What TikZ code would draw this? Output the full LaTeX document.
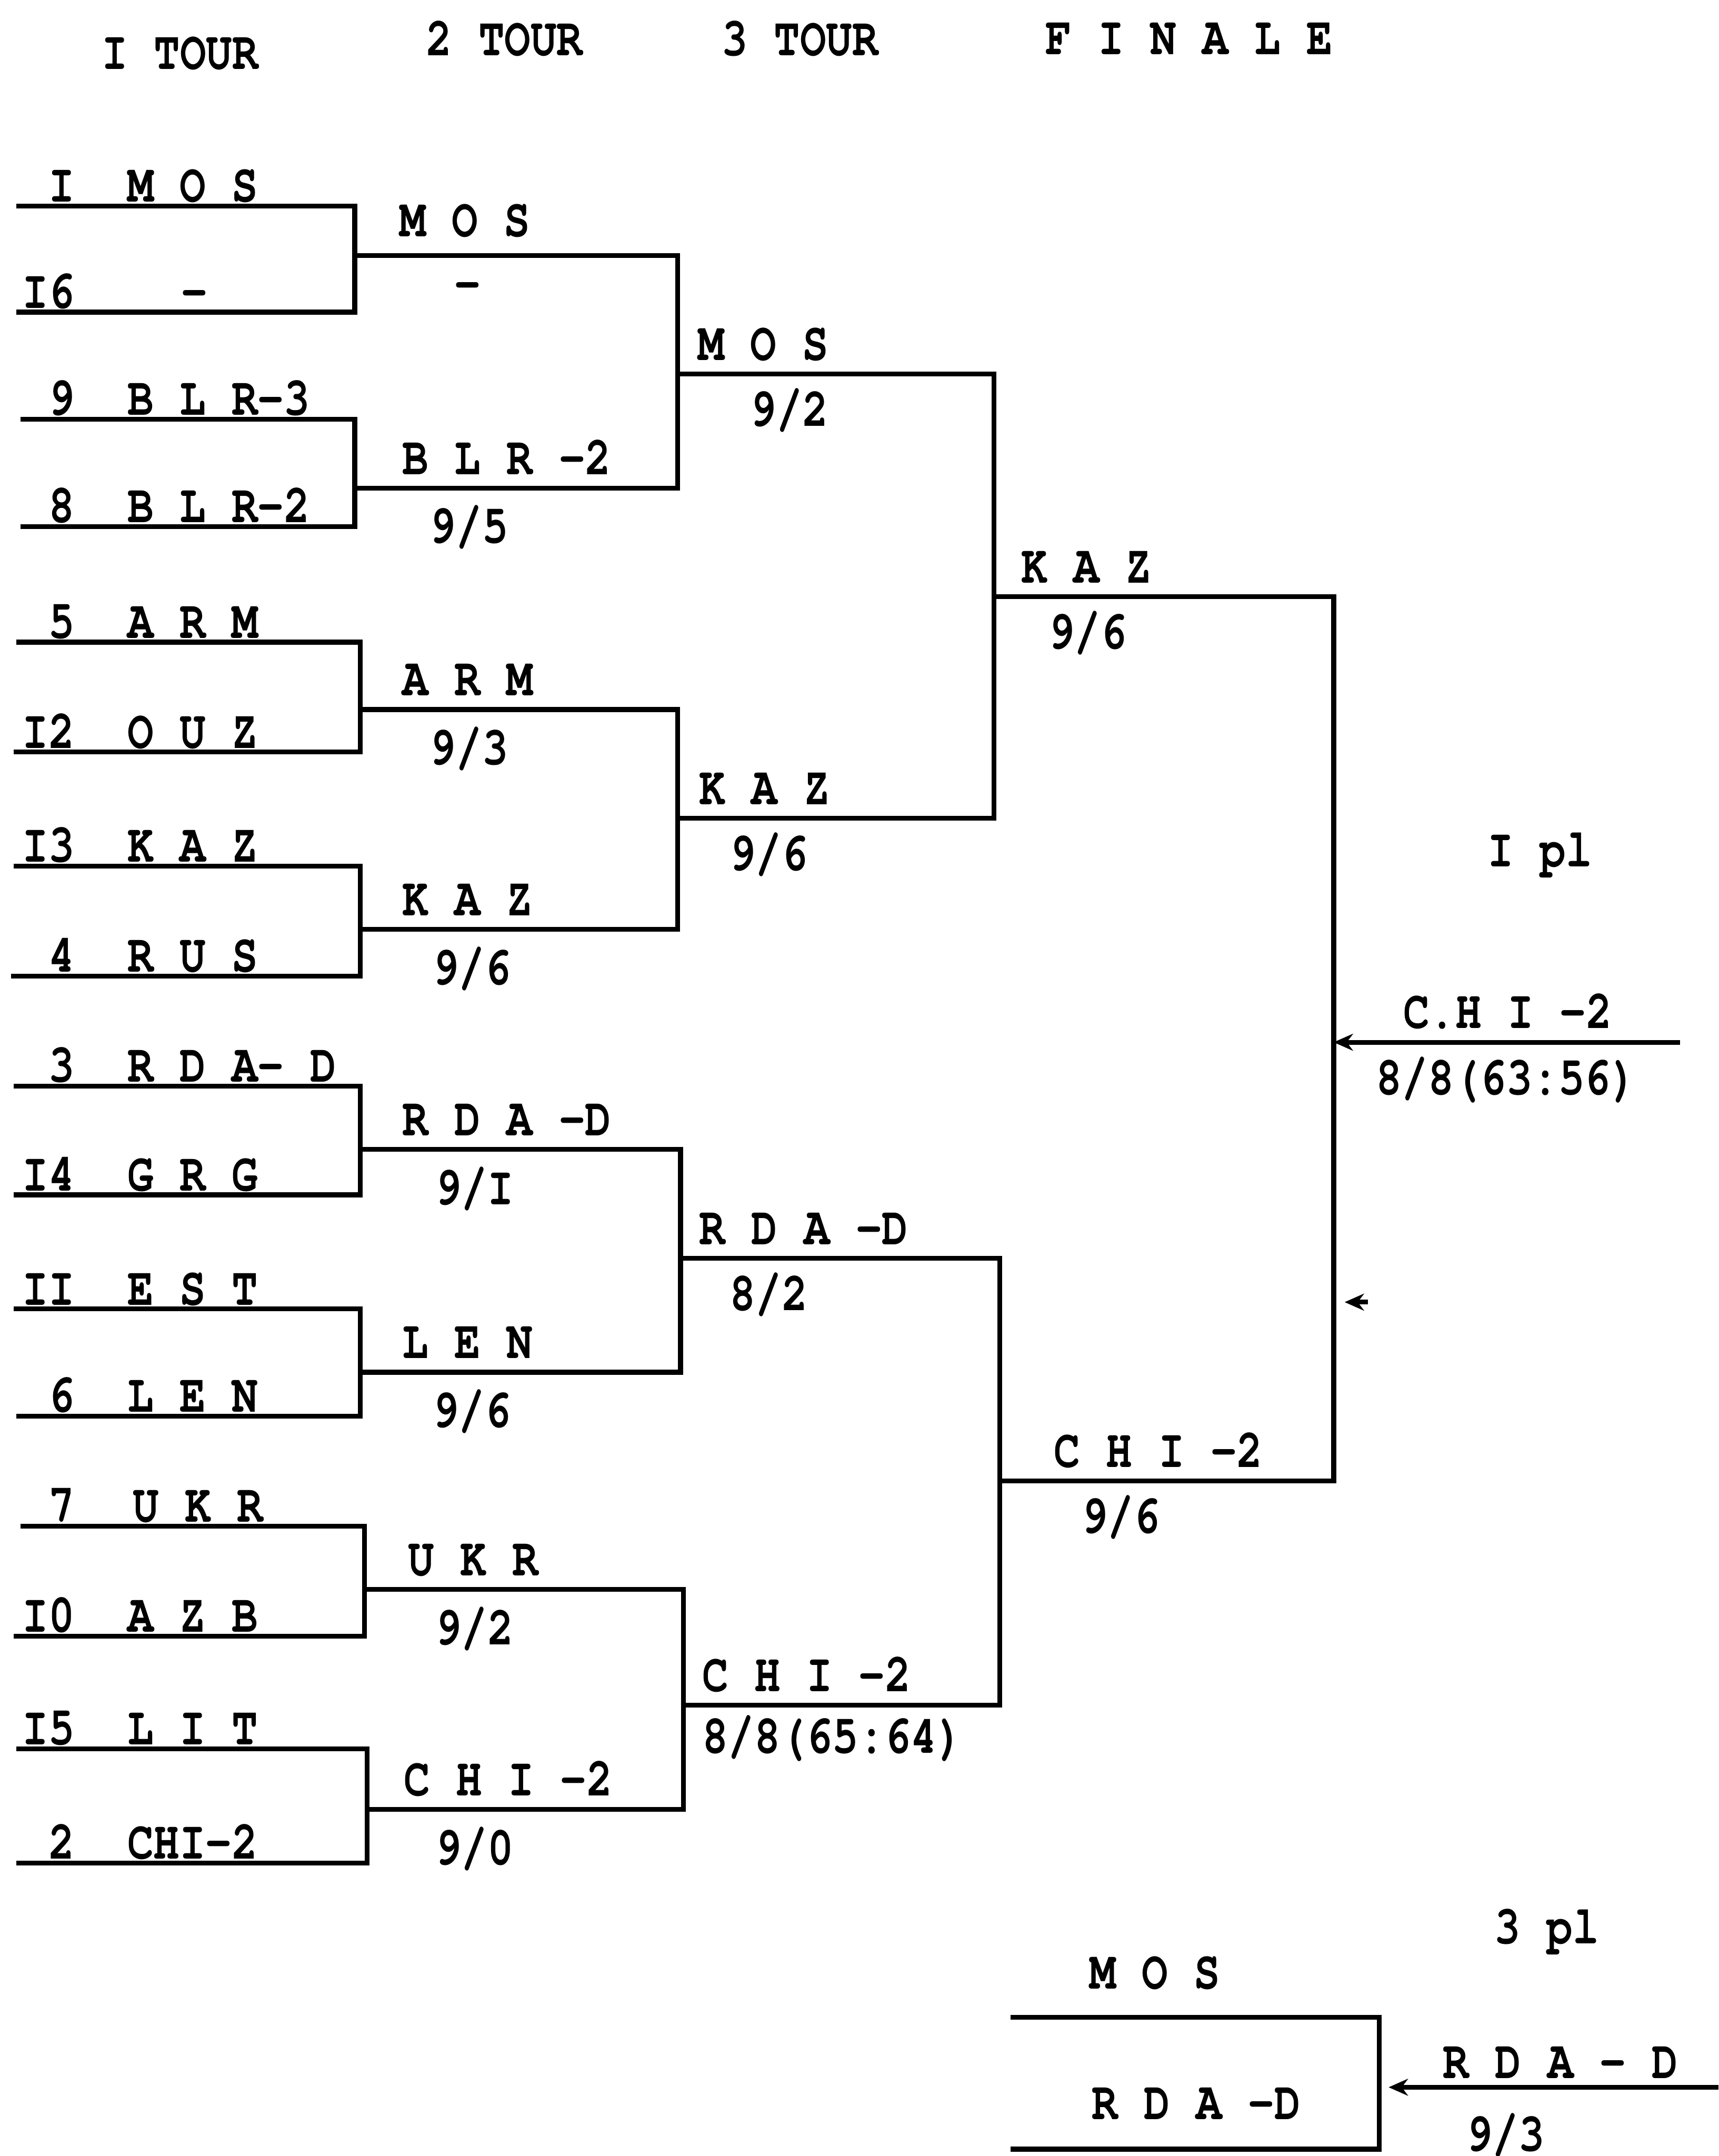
\documentclass[tikz,border=0pt]{standalone}
\usepackage{fontspec}
\newfontfamily\typewface{TeX Gyre Cursor}[FakeStretch=0.8]
\newcommand{\twfont}{\typewface\bfseries\fontsize{11.25}{13}\selectfont}
\usetikzlibrary{arrows.meta}

\begin{document}
\begin{tikzpicture}[
    bracket/.style={line width=1pt},
    winline/.style={line width=1pt, {Stealth[length=4pt, width=3.5pt]}-},
    lab/.style={anchor=base west, inner sep=0pt, font=\twfont},
    num/.style={anchor=base east, inner sep=0pt, font=\twfont},
    head/.style={inner sep=0pt, font=\twfont},
]
\fill[white] (0,0) rectangle (12.50,-15.68);
\useasboundingbox (0,0) rectangle (12.50,-15.68);

% round headers
\node[head] (h1) at (1.31,-0.39) {I TOUR};
\node[head] (h2) at (3.67,-0.28) {2 TOUR};
\node[head] (h3) at (5.82,-0.28) {3 TOUR};
\node[head] (h4) at (8.65,-0.28) {F I N A L E};

% 1 tour - 16 lines
\coordinate (a1) at (0.12,-1.50);  \coordinate (a1x) at (2.58,-1.50);
\coordinate (a2) at (0.12,-2.27);  \coordinate (a2x) at (2.58,-2.27);
\coordinate (a3) at (0.15,-3.05);  \coordinate (a3x) at (2.58,-3.05);
\coordinate (a4) at (0.15,-3.83);  \coordinate (a4x) at (2.58,-3.83);
\coordinate (a5) at (0.12,-4.67);  \coordinate (a5x) at (2.62,-4.67);
\coordinate (a6) at (0.10,-5.47);  \coordinate (a6x) at (2.62,-5.47);
\coordinate (a7) at (0.10,-6.30);  \coordinate (a7x) at (2.62,-6.30);
\coordinate (a8) at (0.08,-7.10);  \coordinate (a8x) at (2.62,-7.10);
\coordinate (a9) at (0.10,-7.90);  \coordinate (a9x) at (2.62,-7.90);
\coordinate (a10) at (0.10,-8.69); \coordinate (a10x) at (2.62,-8.69);
\coordinate (a11) at (0.10,-9.52); \coordinate (a11x) at (2.62,-9.52);
\coordinate (a12) at (0.12,-10.30); \coordinate (a12x) at (2.62,-10.30);
\coordinate (a13) at (0.15,-11.10); \coordinate (a13x) at (2.65,-11.10);
\coordinate (a14) at (0.10,-11.90); \coordinate (a14x) at (2.65,-11.90);
\coordinate (a15) at (0.12,-12.72); \coordinate (a15x) at (2.67,-12.72);
\coordinate (a16) at (0.12,-13.55); \coordinate (a16x) at (2.67,-13.55);

\node[num] (n1) at (0.55,-1.47) {I};    \node[lab] (m1) at (0.92,-1.47) {M O S};
\node[num] (n2) at (0.55,-2.24) {I6};   \node[lab] (m2) at (1.31,-2.24) {-};
\node[num] (n3) at (0.55,-3.02) {9};    \node[lab] (m3) at (0.92,-3.02) {B L R-3};
\node[num] (n4) at (0.55,-3.80) {8};    \node[lab] (m4) at (0.92,-3.80) {B L R-2};
\node[num] (n5) at (0.55,-4.64) {5};    \node[lab] (m5) at (0.92,-4.64) {A R M};
\node[num] (n6) at (0.55,-5.44) {I2};   \node[lab] (m6) at (0.92,-5.44) {O U Z};
\node[num] (n7) at (0.55,-6.27) {I3};   \node[lab] (m7) at (0.92,-6.27) {K A Z};
\node[num] (n8) at (0.55,-7.07) {4};    \node[lab] (m8) at (0.92,-7.07) {R U S};
\node[num] (n9) at (0.55,-7.87) {3};    \node[lab] (m9) at (0.92,-7.87) {R D A- D};
\node[num] (n10) at (0.55,-8.66) {I4};  \node[lab] (m10) at (0.92,-8.66) {G R G};
\node[num] (n11) at (0.55,-9.49) {II};  \node[lab] (m11) at (0.92,-9.49) {E S T};
\node[num] (n12) at (0.55,-10.27) {6};  \node[lab] (m12) at (0.92,-10.27) {L E N};
\node[num] (n13) at (0.55,-11.07) {7};  \node[lab] (m13) at (0.96,-11.07) {U K R};
\node[num] (n14) at (0.55,-11.87) {I0}; \node[lab] (m14) at (0.92,-11.87) {A Z B};
\node[num] (n15) at (0.55,-12.69) {I5}; \node[lab] (m15) at (0.92,-12.69) {L I T};
\node[num] (n16) at (0.55,-13.52) {2};  \node[lab] (m16) at (0.92,-13.52) {CHI-2};

\draw[bracket] (a1) -- (a1x) -- (a2x) -- (a2);
\draw[bracket] (a3) -- (a3x) -- (a4x) -- (a4);
\draw[bracket] (a5) -- (a5x) -- (a6x) -- (a6);
\draw[bracket] (a7) -- (a7x) -- (a8x) -- (a8);
\draw[bracket] (a9) -- (a9x) -- (a10x) -- (a10);
\draw[bracket] (a11) -- (a11x) -- (a12x) -- (a12);
\draw[bracket] (a13) -- (a13x) -- (a14x) -- (a14);
\draw[bracket] (a15) -- (a15x) -- (a16x) -- (a16);

% 2 tour - 8 lines
\coordinate (b1) at (2.58,-1.86);  \coordinate (b1x) at (4.93,-1.86);
\coordinate (b2) at (2.58,-3.55);  \coordinate (b2x) at (4.93,-3.55);
\coordinate (b3) at (2.62,-5.16);  \coordinate (b3x) at (4.93,-5.16);
\coordinate (b4) at (2.62,-6.76);  \coordinate (b4x) at (4.93,-6.76);
\coordinate (b5) at (2.62,-8.36);  \coordinate (b5x) at (4.95,-8.36);
\coordinate (b6) at (2.62,-9.98);  \coordinate (b6x) at (4.95,-9.98);
\coordinate (b7) at (2.65,-11.56); \coordinate (b7x) at (4.97,-11.56);
\coordinate (b8) at (2.67,-13.16); \coordinate (b8x) at (4.97,-13.16);

\node[lab] (p1) at (2.90,-1.72) {M O S};     \node[head] (s1) at (3.40,-2.12) {-};
\node[lab] (p2) at (2.92,-3.45) {B L R -2};  \node[lab] (s2) at (3.12,-3.95) {9/5};
\node[lab] (p3) at (2.92,-5.06) {A R M};     \node[lab] (s3) at (3.12,-5.56) {9/3};
\node[lab] (p4) at (2.92,-6.66) {K A Z};     \node[lab] (s4) at (3.14,-7.16) {9/6};
\node[lab] (p5) at (2.92,-8.26) {R D A -D};  \node[lab] (s5) at (3.16,-8.76) {9/I};
\node[lab] (p6) at (2.92,-9.88) {L E N};     \node[lab] (s6) at (3.14,-10.38) {9/6};
\node[lab] (p7) at (2.96,-11.46) {U K R};    \node[lab] (s7) at (3.16,-11.96) {9/2};
\node[lab] (p8) at (2.93,-13.06) {C H I -2}; \node[lab] (s8) at (3.16,-13.56) {9/0};

\draw[bracket] (b1) -- (b1x) -- (b2x) -- (b2);
\draw[bracket] (b3) -- (b3x) -- (b4x) -- (b4);
\draw[bracket] (b5) -- (b5x) -- (b6x) -- (b6);
\draw[bracket] (b7) -- (b7x) -- (b8x) -- (b8);

% 3 tour - 4 lines
\coordinate (c1) at (4.93,-2.72);  \coordinate (c1x) at (7.23,-2.72);
\coordinate (c2) at (4.93,-5.95);  \coordinate (c2x) at (7.23,-5.95);
\coordinate (c3) at (4.95,-9.15);  \coordinate (c3x) at (7.27,-9.15);
\coordinate (c4) at (4.97,-12.40); \coordinate (c4x) at (7.27,-12.40);

\node[lab] (q1) at (5.07,-2.62) {M O S};     \node[lab] (r1) at (5.45,-3.10) {9/2};
\node[lab] (q2) at (5.08,-5.85) {K A Z};     \node[lab] (r2) at (5.30,-6.33) {9/6};
\node[lab] (q3) at (5.08,-9.05) {R D A -D};  \node[lab] (r3) at (5.30,-9.53) {8/2};
\node[lab] (q4) at (5.10,-12.30) {C H I -2}; \node[lab] (r4) at (5.10,-12.75) {8/8(65:64)};

\draw[bracket] (c1) -- (c1x) -- (c2x) -- (c2);
\draw[bracket] (c3) -- (c3x) -- (c4x) -- (c4);

% semi-finals
\coordinate (d1) at (7.23,-4.34);  \coordinate (d1x) at (9.70,-4.34);
\coordinate (d2) at (7.27,-10.77); \coordinate (d2x) at (9.70,-10.77);

\node[lab] (u1) at (7.42,-4.24) {K A Z};     \node[lab] (v1) at (7.62,-4.72) {9/6};
\node[lab] (u2) at (7.66,-10.67) {C H I -2}; \node[lab] (v2) at (7.86,-11.15) {9/6};

\draw[bracket] (d1) -- (d1x) -- (d2x) -- (d2);

% final
\coordinate (f) at (9.70,-7.58); \coordinate (fx) at (12.22,-7.58);
\coordinate (k) at (9.78,-9.47);  \coordinate (kx) at (9.95,-9.47);
\node[head] (pl1) at (11.20,-6.22) {I pl};
\node[lab] (w1) at (10.20,-7.48) {C.H I -2};
\node[lab] (w2) at (10.00,-7.96) {8/8(63:56)};
\draw[winline] (f) -- (fx);
\draw[winline] (k) -- (kx);

% 3rd place
\coordinate (g1) at (7.35,-14.67);  \coordinate (g1x) at (10.03,-14.67);
\coordinate (g2) at (7.35,-15.63);  \coordinate (g2x) at (10.03,-15.63);
\coordinate (t) at (10.10,-15.18);  \coordinate (tx) at (12.50,-15.18);
\node[head] (pl3) at (11.25,-14.05) {3 pl};
\node[head] (x1) at (8.40,-14.35) {M O S};
\node[head] (x2) at (8.70,-15.30) {R D A -D};
\node[head] (y1) at (11.35,-15.00) {R D A - D};
\node[head] (y2) at (10.95,-15.53) {9/3};
\draw[bracket] (g1) -- (g1x) -- (g2x) -- (g2);
\draw[winline] (t) -- (tx);
\end{tikzpicture}
\end{document}
